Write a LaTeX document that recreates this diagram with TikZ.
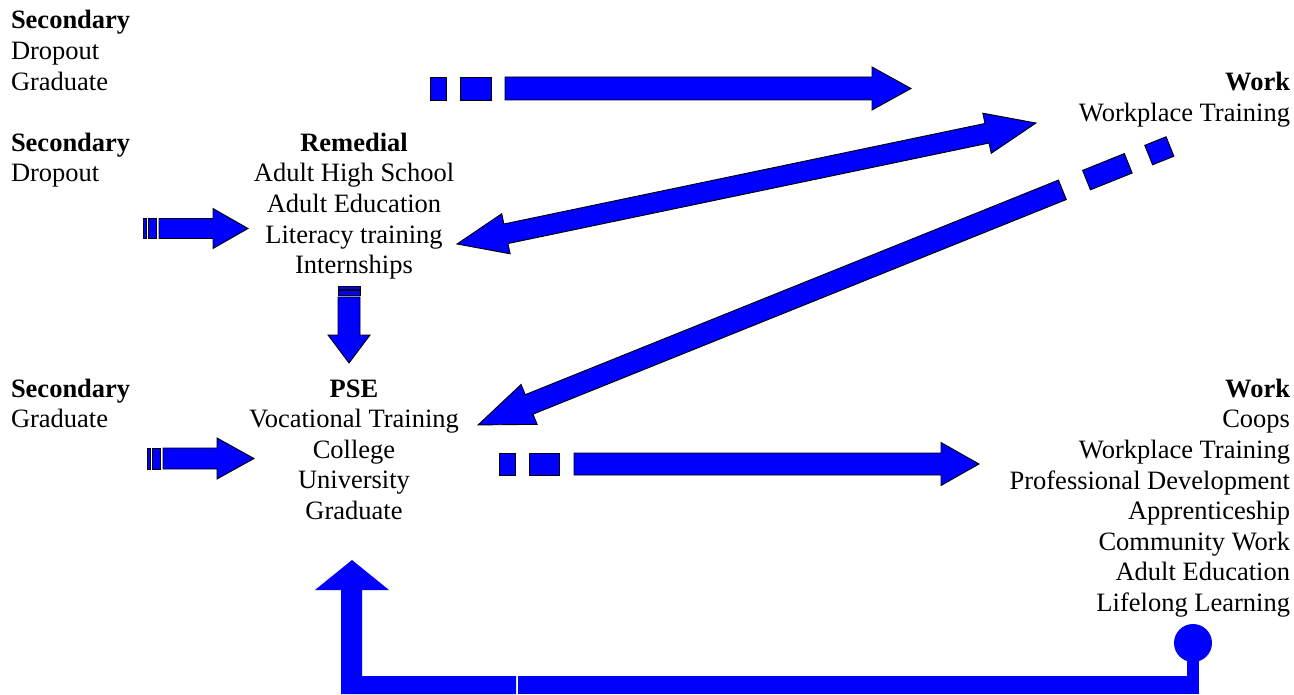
\documentclass[tikz,border=0pt]{standalone}
\usepackage{fontspec}
\setmainfont{Liberation Serif}
\usetikzlibrary{calc}
\tikzset{
  arr/.style={fill=blue, draw=black, line width=0.9pt, line join=miter},
  flat/.style={fill=blue, draw=none},
  txt/.style={inner sep=0pt, outer sep=0pt, font=\fontsize{26.5}{30.6}\selectfont},
}
% #1 tail, #2 tip, #3 shaft start, #4 shaft half width, #5 head half width, #6 head length, #7 tail boxes
\newcommand\blockarrow[7]{%
  \path let \p1=($(#2)-(#1)$) in \pgfextra{%
    \pgfmathsetmacro\baX{atan2(\y1,\x1)}\pgfmathsetmacro\blX{veclen(\x1,\y1)}%
    \global\let\bang\baX\global\let\blen\blX};
  \begin{scope}[shift={(#1)},rotate=\bang]
    \filldraw[arr] (#3,#4) -- ({\blen-#6},#4) -- ({\blen-#6},#5) -- (\blen,0)
      -- ({\blen-#6},-#5) -- ({\blen-#6},-#4) -- (#3,-#4) -- cycle;
    \foreach \a/\b in {#7} {\filldraw[arr] (\a,#4) rectangle (\b,-#4);}
  \end{scope}}
% double arrow: #1 tip A, #2 tip B, #3 shaft hw, #4 head hw, #5 head length
\newcommand\dblarrow[5]{%
  \path let \p1=($(#2)-(#1)$) in \pgfextra{%
    \pgfmathsetmacro\baX{atan2(\y1,\x1)}\pgfmathsetmacro\blX{veclen(\x1,\y1)}%
    \global\let\bang\baX\global\let\blen\blX};
  \begin{scope}[shift={(#1)},rotate=\bang]
    \filldraw[arr] (0,0) -- (#5,#4) -- (#5,#3) -- ({\blen-#5},#3) -- ({\blen-#5},#4)
      -- (\blen,0) -- ({\blen-#5},-#4) -- ({\blen-#5},-#3) -- (#5,-#3) -- (#5,-#4) -- cycle;
  \end{scope}}
\begin{document}
\begin{tikzpicture}[x=1pt,y=-1pt]
\useasboundingbox (0,0) rectangle (1294,695);
% text blocks
\node[txt, anchor=north west, align=left] (sec1) at (11,10.5) {\textbf{Secondary}\\Dropout\\Graduate};
\node[txt, anchor=north west, align=left] (sec2) at (11,133) {\textbf{Secondary}\\Dropout};
\node[txt, anchor=north, align=center] (rem) at (354,133) {\textbf{Remedial}\\Adult High School\\Adult Education\\Literacy training\\Internships};
\node[txt, anchor=north east, align=right] (work1) at (1290,72.5) {\textbf{Work}\\Workplace Training};
\node[txt, anchor=north west, align=left] (sec3) at (11,379) {\textbf{Secondary}\\Graduate};
\node[txt, anchor=north, align=center] (pse) at (354,379.5) {\textbf{PSE}\\Vocational Training\\College\\University\\Graduate};
\node[txt, anchor=north east, align=right] (work2) at (1290,379) {\textbf{Work}\\Coops\\Workplace Training\\Professional Development\\Apprenticeship\\Community Work\\Adult Education\\Lifelong Learning};
% arrow end points
\coordinate (t1) at (430,88.5);   \coordinate (h1) at (911,88.5);
\coordinate (t2) at (143,228.5);  \coordinate (h2) at (248,228.5);
\coordinate (t3) at (147,458.5);  \coordinate (h3) at (254,458.5);
\coordinate (t4) at (349,286);    \coordinate (h4) at (349,363);
\coordinate (t5) at (499,464);    \coordinate (h5) at (979,464);
\coordinate (t6) at (1170,146.5); \coordinate (h6) at (478,425);
\coordinate (dA) at (457,244);    \coordinate (dB) at (1036,123);
% block arrows
\blockarrow{t1}{h1}{75}{11.5}{21.5}{39}{0/16,30/61}
\blockarrow{t2}{h2}{16}{10}{20}{35}{0/3.5,5.5/13}
\blockarrow{t3}{h3}{16}{10.5}{20.5}{37}{0/3.5,5.5/13}
\blockarrow{t4}{h4}{11}{11}{21}{28}{0/3,4.5/9.5}
\blockarrow{t5}{h5}{75}{11}{21.5}{38}{0/16,30/60}
\blockarrow{t6}{h6}{116}{10.5}{21.5}{55}{0/23,45/90}
\dblarrow{dA}{dB}{10}{20.5}{50}
% bottom return arrow
\coordinate (bt) at (352,560);
\coordinate (bc) at (1193,643);
\fill[flat] (341,694) -- (341,590) -- (315,590) -- (bt) -- (389,590) -- (362,590)
  -- (362,676) -- (516,676) -- (516,694) -- cycle;
\fill[flat] (518,676) rectangle (1199,694);
\fill[flat] (1187,643) rectangle (1199,694);
\fill[flat] (bc) circle (19);
\end{tikzpicture}
\end{document}
